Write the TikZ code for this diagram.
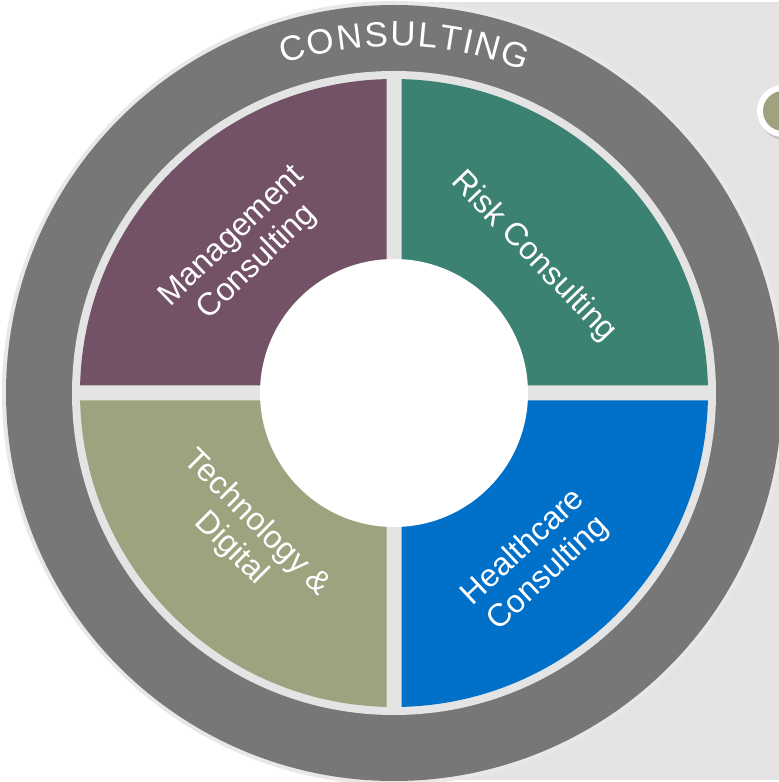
\documentclass[tikz,border=0pt]{standalone}
\usepackage{fontspec}
\setmainfont{Liberation Sans}
\usetikzlibrary{decorations.text}
\definecolor{ringgray}{HTML}{777777}
\definecolor{gapgray}{HTML}{E4E4E4}
\definecolor{mgmtpurple}{HTML}{735267}
\definecolor{riskteal}{HTML}{3C8272}
\definecolor{techolive}{HTML}{9DA37F}
\definecolor{healthblue}{HTML}{0070C9}
\newcommand\ringfont{\fontsize{35}{40}\selectfont}
\tikzset{
  seglabel/.style={text=white, align=center, inner sep=0pt, font=\fontsize{32}{36}\selectfont},
}
\begin{document}
\begin{tikzpicture}[x=1pt,y=1pt]
\useasboundingbox (0,0) rectangle (779,782);
\fill[white] (0,0) rectangle (779,782);
\fill[gapgray] (394,2) rectangle (779,780);
% dot at the right edge
\fill[black!35,opacity=0.5] (785,668) circle[radius=26pt];
\fill[white] (783,671) circle[radius=26pt];
\fill[techolive] (783,671) circle[radius=20pt];
\begin{scope}[shift={(394,389)}]
% ring
\fill[gapgray!85] (0,0) circle[radius=392pt];
\fill[ringgray] (0,0) circle[radius=388pt];
\fill[gapgray] (0,0) circle[radius=322pt];
% quarters
\foreach \a/\col in {0/riskteal,90/mgmtpurple,180/techolive,270/healthblue}
  \fill[\col] (\a+45:10.61) -- (\a+1.37:314) arc[start angle=\a+1.37,end angle=\a+88.63,radius=314pt] -- cycle;
\fill[white] (0,0) circle[radius=134pt];
% labels
\node[seglabel,rotate=44] (mgmt) at (-149,143) {Management\\Consulting};
\node[seglabel,rotate=-46] (risk) at (140,136) {Risk Consulting};
\node[seglabel,rotate=-45] (tech) at (-150,-143) {Technology \&\\Digital};
\node[seglabel,rotate=43] (health) at (142,-168) {Healthcare\\Consulting};
\path[decorate,decoration={text along path,text color=white,text={|\ringfont|CONSULTING},text align={fit to path}}]
  (108.5:347) arc[start angle=108.5,end angle=68,radius=347pt];
\end{scope}
\end{tikzpicture}
\end{document}
